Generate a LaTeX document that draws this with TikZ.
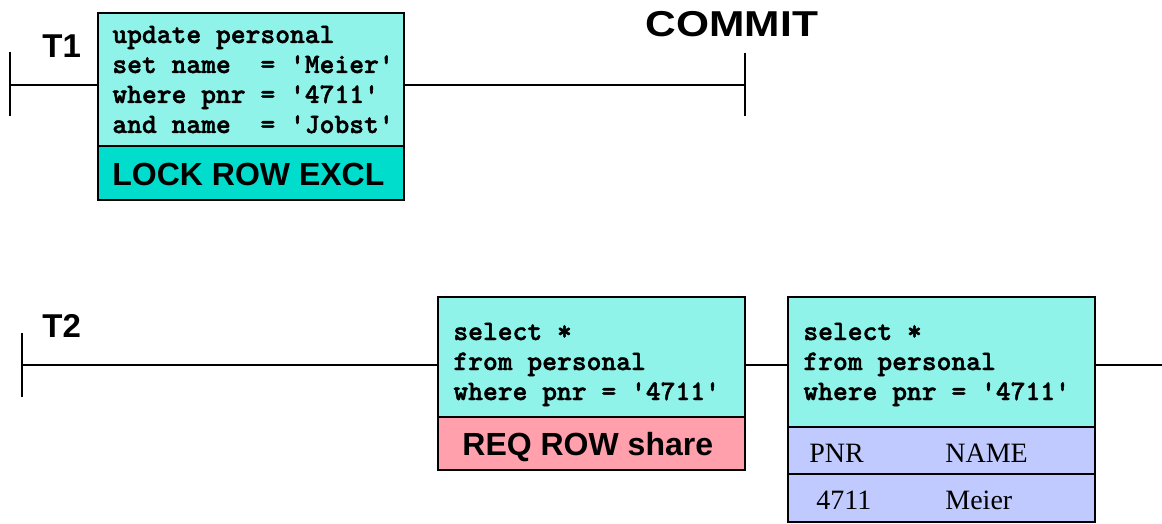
\documentclass[tikz,border=0pt]{standalone}
\usepackage{fontspec}
\setmainfont{Liberation Serif}
\setsansfont{Liberation Sans}
\setmonofont{Liberation Mono}
\newfontfamily\codefont{lmmonolt10-bold}[Extension=.otf, FakeBold=1.6]
\usetikzlibrary{fit}
\definecolor{sqlcyan}{RGB}{143,243,234}
\definecolor{lockcyan}{RGB}{0,221,204}
\definecolor{reqpink}{RGB}{255,160,172}
\definecolor{reslav}{RGB}{192,202,255}
\tikzset{
  boxshape/.style={draw=black, line width=1pt, inner sep=0pt},
  codetext/.style={anchor=base west, inner sep=0pt, font=\fontsize{14.1}{17}\codefont},
  locktext/.style={anchor=base west, inner sep=0pt, font=\fontsize{16}{19}\selectfont\sffamily\bfseries},
  tlabel/.style={anchor=base west, inner sep=0pt, font=\fontsize{16.5}{19}\selectfont\sffamily\bfseries},
  tabtext/.style={anchor=base west, inner sep=0pt, font=\fontsize{14}{17}\selectfont\rmfamily},
  tline/.style={line width=1pt, black}
}
\begin{document}
\begin{tikzpicture}[x=0.5pt,y=-0.5pt]
\useasboundingbox (0,0) rectangle (1162,524);
% ---------- T1 ----------
\node[boxshape, fill=sqlcyan, fit={(98,13)(404,146)}] (c1) {};
\node[boxshape, fill=lockcyan, fit={(98,146)(404,200)}] (l1) {};
\node[codetext] (c1a) at (112,43) {update personal};
\node[codetext] (c1b) at (112,73) {set name\ \ = 'Meier'};
\node[codetext] (c1c) at (112,103) {where pnr = '4711'};
\node[codetext] (c1d) at (112,133) {and name\ \ = 'Jobst'};
\node[locktext] (l1t) at (112,185) {LOCK ROW EXCL};
\node[tlabel] (t1lab) at (42,58) {T1};
\node[anchor=base, inner sep=0pt, font=\fontsize{18}{21}\selectfont\sffamily\bfseries] (commitlab) at (732,36.5) {\scalebox{1.18}[1]{COMMIT}};
\coordinate (t1a) at (10,85);
\coordinate (t1top) at (10,52);
\coordinate (t1bot) at (10,116);
\coordinate (cm) at (745,85);
\coordinate (cmtop) at (745,53);
\coordinate (cmbot) at (745,116);
\draw[tline] (t1top) -- (t1bot);
\draw[tline] (cmtop) -- (cmbot);
\draw[tline] (t1a) -- (t1a -| c1.west);
\draw[tline] (t1a -| c1.east) -- (cm);
% ---------- T2 ----------
\node[boxshape, fill=sqlcyan, fit={(438,297)(745,417)}] (c2) {};
\node[boxshape, fill=reqpink, fit={(438,417)(745,470)}] (r2) {};
\node[codetext] (c2a) at (453,340) {select *};
\node[codetext] (c2b) at (453,370) {from personal};
\node[codetext] (c2c) at (453,400) {where pnr = '4711'};
\node[locktext] (r2t) at (462,455) {REQ ROW share};
\node[boxshape, fill=sqlcyan, fit={(788,297)(1095,427)}] (c3) {};
\node[boxshape, fill=reslav, fit={(788,427)(1095,474)}] (h3) {};
\node[boxshape, fill=reslav, fit={(788,474)(1095,522)}] (d3) {};
\node[codetext] (c3a) at (803,340) {select *};
\node[codetext] (c3b) at (803,370) {from personal};
\node[codetext] (c3c) at (803,400) {where pnr = '4711'};
\node[tabtext] (h3a) at (809,462) {PNR};
\node[tabtext] (h3b) at (945,462) {NAME};
\node[tabtext] (d3a) at (816,509) {4711};
\node[tabtext] (d3b) at (945,509) {Meier};
\node[tlabel] (t2lab) at (42,337) {T2};
\coordinate (t2a) at (22,365);
\coordinate (t2top) at (22,333);
\coordinate (t2bot) at (22,397);
\coordinate (t2end) at (1162,365);
\draw[tline] (t2top) -- (t2bot);
\draw[tline] (t2a) -- (t2a -| c2.west);
\draw[tline] (t2a -| c2.east) -- (t2a -| c3.west);
\draw[tline] (t2a -| c3.east) -- (t2end);
\end{tikzpicture}
\end{document}
